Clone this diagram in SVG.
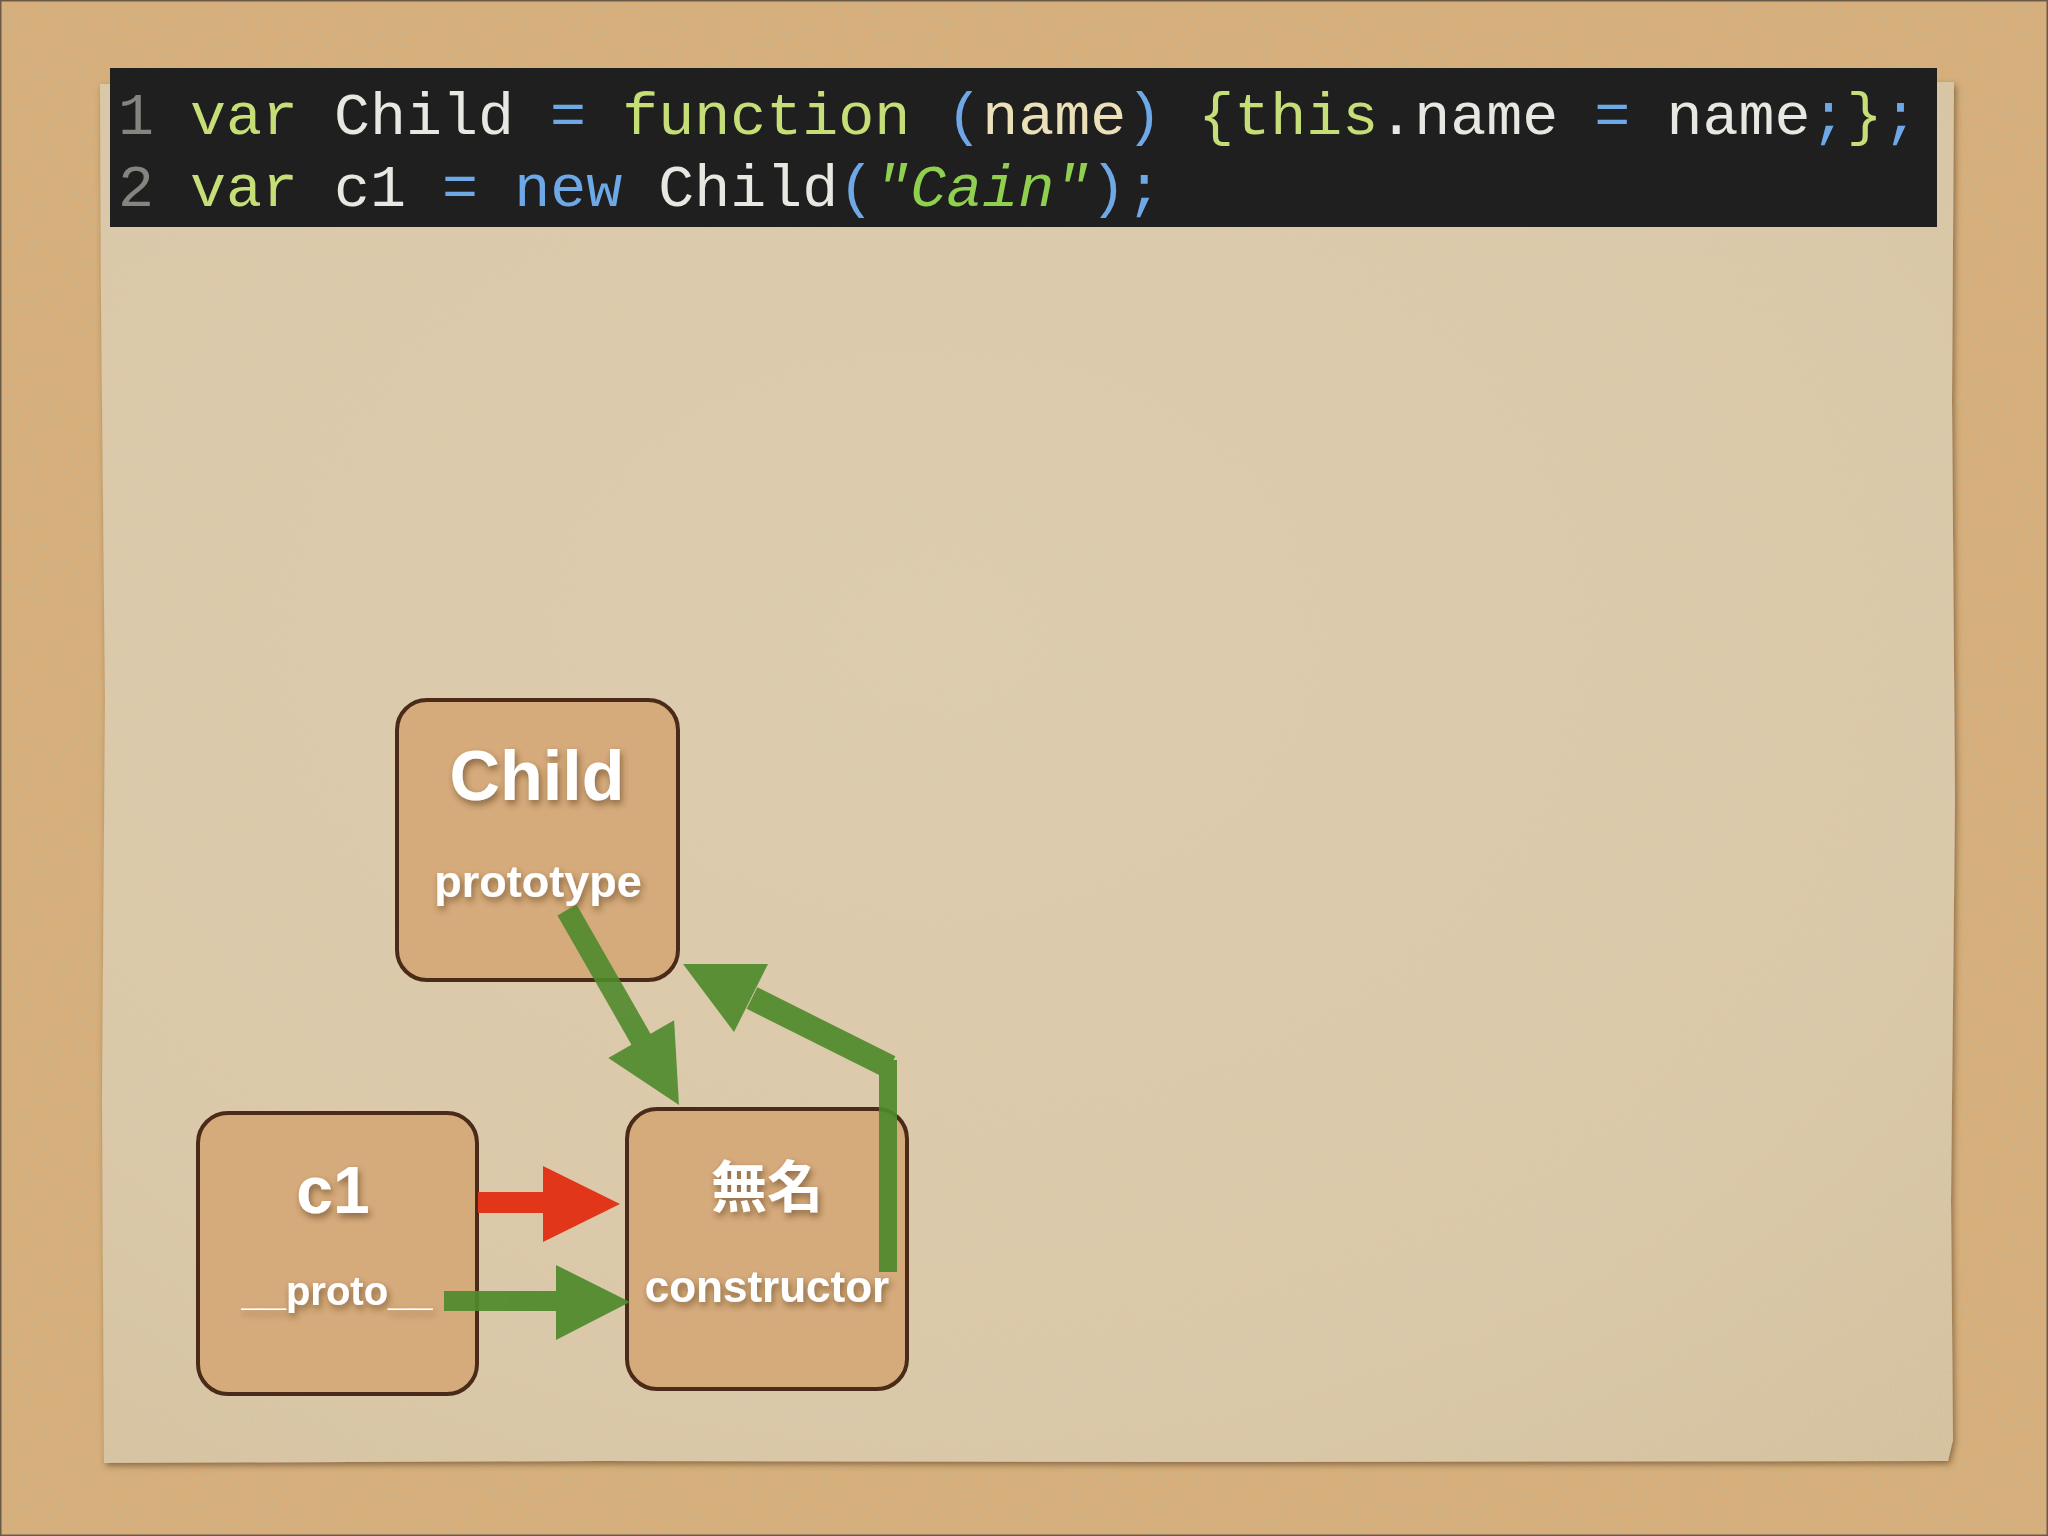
<svg xmlns="http://www.w3.org/2000/svg" width="2048" height="1536" viewBox="0 0 2048 1536">
  <defs>
    <style>
      .code { font-family: "Liberation Mono", "DejaVu Sans Mono", monospace; font-size: 60px; }
      .ln { fill: #85857f; }
      .kw { fill: #c6de78; }
      .id { fill: #e8e8e2; }
      .op { fill: #6ea8e6; }
      .pa { fill: #ece0b8; }
      .st { fill: #8fd050; font-style: italic; }
      .box { fill: #d6ab7c; stroke: #4a2a18; stroke-width: 4; }
      .title { font-family: "Liberation Sans", "Noto Sans CJK JP", sans-serif; font-weight: bold; fill: #ffffff; text-anchor: middle; }
      .green { fill: #4f8a2c; }
      .greenline { fill: none; stroke: #4f8a2c; stroke-linejoin: miter; }
      .red { fill: #e2361a; }
    </style>
    <filter id="cork" x="0" y="0" width="100%" height="100%">
      <feTurbulence type="fractalNoise" baseFrequency="0.9" numOctaves="2" seed="4" result="n"/>
      <feColorMatrix in="n" type="matrix" values="0 0 0 0 0.6  0 0 0 0 0.44  0 0 0 0 0.24  0 0 0 -3 1.75" result="spk"/>
      <feComposite in="spk" in2="SourceGraphic" operator="atop"/>
    </filter>
    <filter id="paperTex" x="0" y="0" width="100%" height="100%">
      <feTurbulence type="fractalNoise" baseFrequency="0.6" numOctaves="2" seed="9" result="n"/>
      <feColorMatrix in="n" type="matrix" values="0 0 0 0 0.7  0 0 0 0 0.6  0 0 0 0 0.45  0 0 0 -1.2 0.66" result="spk"/>
      <feComposite in="spk" in2="SourceGraphic" operator="atop"/>
    </filter>
    <filter id="paperShadow" x="-5%" y="-5%" width="110%" height="110%">
      <feDropShadow dx="2" dy="3" stdDeviation="3" flood-color="#5a3a1a" flood-opacity="0.6"/>
    </filter>
    <filter id="txtShadow" x="-20%" y="-30%" width="140%" height="160%">
      <feDropShadow dx="2" dy="4" stdDeviation="3.5" flood-color="#4a2e15" flood-opacity="0.55"/>
    </filter>
    <radialGradient id="paperGrad" cx="0.45" cy="0.4" r="0.8">
      <stop offset="0" stop-color="#ddccae"/>
      <stop offset="0.7" stop-color="#dac8a8"/>
      <stop offset="1" stop-color="#d5c19d"/>
    </radialGradient>
  </defs>

  <!-- cork board -->
  <rect x="0" y="0" width="2048" height="1536" fill="#d9ae78" filter="url(#cork)"/>
  <rect x="0.5" y="0.5" width="2047" height="1535" fill="none" stroke="#6b5a48" stroke-width="2"/>

  <!-- paper -->
  <g filter="url(#paperShadow)">
    <path d="M100,84 L600,83 L1200,84 L1954,82 L1952,400 L1955,800 L1951,1200 L1953,1440 L1948,1461 L1200,1462 L600,1461 L104,1463 L102,1100 L105,700 L101,300 Z" fill="url(#paperGrad)" filter="url(#paperTex)"/>
  </g>

  <!-- code bar -->
  <g id="code">
    <rect x="110" y="68" width="1827" height="159" fill="#1f1f1f"/>
    <text class="code" x="118" y="134" xml:space="preserve"><tspan class="ln">1</tspan> <tspan class="kw">var</tspan><tspan class="id"> Child </tspan><tspan class="op">=</tspan> <tspan class="kw">function</tspan> <tspan class="op">(</tspan><tspan class="pa">name</tspan><tspan class="op">)</tspan> <tspan class="kw">{this</tspan><tspan class="id">.name </tspan><tspan class="op">=</tspan><tspan class="id"> name</tspan><tspan class="op">;</tspan><tspan class="kw">}</tspan><tspan class="op">;</tspan></text>
    <text class="code" x="118" y="206" xml:space="preserve"><tspan class="ln">2</tspan> <tspan class="kw">var</tspan><tspan class="id"> c1 </tspan><tspan class="op">=</tspan> <tspan class="op">new</tspan><tspan class="id"> Child</tspan><tspan class="op">(</tspan><tspan class="st">"Cain"</tspan><tspan class="op">);</tspan></text>
  </g>

  <!-- nodes -->
  <g id="node-child">
    <rect class="box" x="397" y="700" width="281" height="280" rx="30" ry="30"/>
    <text class="title" x="537" y="800" font-size="70" filter="url(#txtShadow)">Child</text>
    <text class="title" x="538" y="897" font-size="45" filter="url(#txtShadow)">prototype</text>
  </g>
  <g id="node-c1">
    <rect class="box" x="198" y="1113" width="279" height="281" rx="30" ry="30"/>
    <text class="title" x="333" y="1213" font-size="66" filter="url(#txtShadow)">c1</text>
    <text class="title" x="337" y="1305" font-size="40" filter="url(#txtShadow)">__proto__</text>
  </g>
  <g id="node-mumei">
    <rect class="box" x="627" y="1109" width="280" height="280" rx="30" ry="30"/>
    <text class="title" x="767" y="1207" font-size="56" font-family="'Noto Sans CJK JP', sans-serif" filter="url(#txtShadow)">無名</text>
    <text class="title" x="767" y="1302" font-size="44" filter="url(#txtShadow)">constructor</text>
  </g>

  <!-- connectors -->
  <g id="connectors">
    <!-- c1 -> 無名 (red) -->
    <g id="edge-red">
      <rect class="red" x="478" y="1192" width="66" height="21"/>
      <polygon class="red" points="543,1166 620,1204 543,1242"/>
    </g>
    <!-- c1.__proto__ -> 無名 -->
    <g id="edge-proto" opacity="0.92">
      <rect class="green" x="444" y="1291" width="113" height="20"/>
      <polygon class="green" points="556,1265 630,1302 556,1340"/>
    </g>
    <!-- Child.prototype -> 無名 -->
    <g id="edge-prototype" opacity="0.9">
      <path class="greenline" stroke-width="22" d="M567,910 L642,1041"/>
      <polygon class="green" points="674.1,1020.2 679,1105 608.3,1058"/>
    </g>
    <!-- 無名.constructor -> Child -->
    <g id="edge-constructor" opacity="0.92">
      <path class="greenline" stroke-width="18" d="M888,1272 L888,1060"/>
      <path class="greenline" stroke-width="24" d="M890,1067 L752,998"/>
      <polygon class="green" points="683,964 768,964 734,1032"/>
    </g>
  </g>
</svg>
